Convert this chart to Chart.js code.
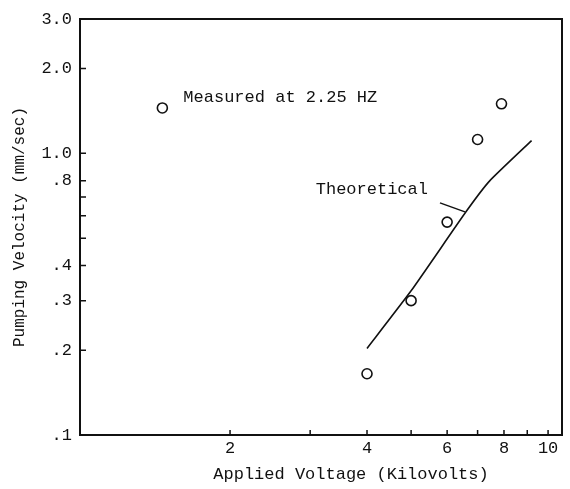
<!DOCTYPE html>
<html>
<head>
<meta charset="utf-8">
<script src="https://cdn.jsdelivr.net/npm/chart.js@4.4.1/dist/chart.umd.min.js"></script>
<style>
    html, body { margin: 0; padding: 0; background: #fff; }
    #wrap { width: 570px; height: 489px; }
</style>
</head>
<body>
<div id="wrap"><canvas id="pumpChart" width="570" height="489"></canvas></div>
<script>
// Measured points (open circles)
var measuredVoltage = [4.0, 5.0, 6.0, 7.0, 7.9];
var measuredVelocity = [0.165, 0.30, 0.57, 1.12, 1.5];

// Theoretical curve
var theoryVoltage = [4.0, 5.0, 6.6, 7.45, 9.2];
var theoryVelocity = [0.203, 0.325, 0.62, 0.80, 1.11];

// Legend marker position (data units)
var legendVoltage = [1.42];
var legendVelocity = [1.45];

// Tick marks and their labels
var xTickValues = [2, 3, 4, 5, 6, 7, 8, 9, 10];
var xTickLabels = ['2', '', '4', '', '6', '', '8', '', '10'];
var yTickValues = [0.1, 0.2, 0.3, 0.4, 0.5, 0.6, 0.7, 0.8, 1, 2, 3];
var yTickLabels = ['.1', '.2', '.3', '.4', '', '', '', '.8', '1.0', '2.0', '3.0'];

var mono = 'Liberation Mono, Courier New, monospace';
var ink = '#111';

function toPoints(xs, ys) {
    return xs.map(function(v, i) { return {x: v, y: ys[i]}; });
}

// Frame, inward ticks and the text notes
var paperPlugin = {
    id: 'paper',
    afterDatasetsDraw: function(chart) {
        var ctx = chart.ctx;
        var a = chart.chartArea;
        var xs = chart.scales.x;
        var ys = chart.scales.y;
        ctx.save();
        ctx.strokeStyle = ink;
        ctx.lineWidth = 2;
        ctx.strokeRect(a.left, a.top, a.right - a.left, a.bottom - a.top);

        ctx.lineWidth = 1.5;
        ctx.beginPath();
        xTickValues.forEach(function(v) {
            var px = xs.getPixelForValue(v);
            ctx.moveTo(px, a.bottom);
            ctx.lineTo(px, a.bottom - 5);
        });
        yTickValues.forEach(function(v) {
            var py = ys.getPixelForValue(v);
            ctx.moveTo(a.left, py);
            ctx.lineTo(a.left + 6, py);
        });
        ctx.stroke();

        ctx.fillStyle = ink;
        ctx.font = '17px ' + mono;
        ctx.textBaseline = 'middle';

        // legend text next to the marker
        var lx = xs.getPixelForValue(legendVoltage[0]);
        var ly = ys.getPixelForValue(legendVelocity[0]);
        ctx.textAlign = 'left';
        ctx.fillText('Measured at 2.25 HZ', lx + 21, ly - 10);

        // label for the theoretical curve with a leader line
        var tx = xs.getPixelForValue(theoryVoltage[2]);
        var ty = ys.getPixelForValue(theoryVelocity[2]);
        ctx.beginPath();
        ctx.moveTo(tx - 26, ty - 9);
        ctx.lineTo(tx - 1, ty);
        ctx.stroke();
        ctx.textAlign = 'right';
        ctx.fillText('Theoretical', tx - 38, ty - 22);

        // x axis title
        ctx.textAlign = 'center';
        ctx.fillText('Applied Voltage (Kilovolts)', (a.left + a.right) / 2 + 30, 474);
        ctx.restore();
    }
};

var chart = new Chart(document.getElementById('pumpChart').getContext('2d'), {
    type: 'scatter',
    data: {
        datasets: [{
            label: 'Theoretical',
            type: 'line',
            data: toPoints(theoryVoltage, theoryVelocity),
            borderColor: ink,
            borderWidth: 1.6,
            pointRadius: 0,
            tension: 0.15,
            fill: false
        }, {
            label: 'Measured at 2.25 HZ',
            data: toPoints(measuredVoltage, measuredVelocity),
            pointStyle: 'circle',
            pointRadius: 5,
            pointBorderWidth: 1.6,
            pointBorderColor: ink,
            pointBackgroundColor: '#fff'
        }, {
            label: 'legend marker',
            data: toPoints(legendVoltage, legendVelocity),
            pointStyle: 'circle',
            pointRadius: 5,
            pointBorderWidth: 1.6,
            pointBorderColor: ink,
            pointBackgroundColor: '#fff'
        }]
    },
    options: {
        responsive: false,
        animation: false,
        devicePixelRatio: 1,
        layout: { padding: { top: 19, right: 8, left: 0, bottom: 0 } },
        plugins: {
            legend: { display: false },
            tooltip: { enabled: false }
        },
        scales: {
            x: {
                type: 'logarithmic',
                min: 0.936,
                max: 10.73,
                afterBuildTicks: function(scale) {
                    scale.ticks = xTickValues.map(function(v) { return {value: v}; });
                },
                afterFit: function(scale) { scale.height = 54; },
                grid: { display: false, drawTicks: false },
                border: { display: false },
                ticks: {
                    autoSkip: false,
                    maxRotation: 0,
                    padding: 3,
                    color: ink,
                    font: { family: mono, size: 17 },
                    callback: function(value, index) { return xTickLabels[index]; }
                }
            },
            y: {
                type: 'logarithmic',
                min: 0.1,
                max: 3.0,
                afterBuildTicks: function(scale) {
                    scale.ticks = yTickValues.map(function(v) { return {value: v}; });
                },
                afterFit: function(scale) { scale.width = 80; },
                grid: { display: false, drawTicks: false },
                border: { display: false },
                ticks: {
                    autoSkip: false,
                    padding: 8,
                    color: ink,
                    font: { family: mono, size: 17 },
                    callback: function(value, index) { return yTickLabels[index]; }
                },
                title: {
                    display: true,
                    text: 'Pumping Velocity (mm/sec)',
                    color: ink,
                    font: { family: mono, size: 16 },
                    padding: { top: 10, bottom: 0 }
                }
            }
        }
    },
    plugins: [paperPlugin]
});
</script>
</body>
</html>
